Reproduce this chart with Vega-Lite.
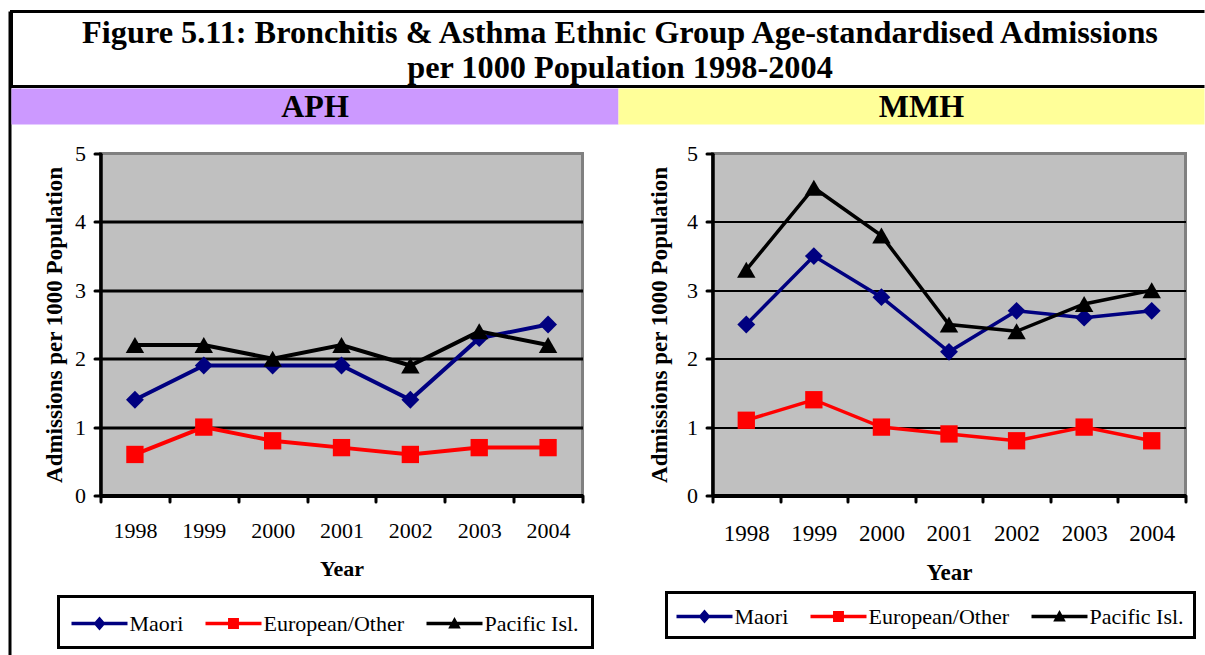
{
  "$schema": "https://vega.github.io/schema/vega-lite/v6.json",
  "padding": {"left": 8.5, "top": 9.5, "right": 0, "bottom": 0},
  "background": "white",
  "config": {"view": {"stroke": null}, "font": "Liberation Serif", "legend": {"strokeWidth": 3}},
  "datasets": {
    "rates": [
      {"hospital": "APH", "group": "Maori", "year": "1998", "value": 1.4},
      {"hospital": "APH", "group": "Maori", "year": "1999", "value": 1.9},
      {"hospital": "APH", "group": "Maori", "year": "2000", "value": 1.9},
      {"hospital": "APH", "group": "Maori", "year": "2001", "value": 1.9},
      {"hospital": "APH", "group": "Maori", "year": "2002", "value": 1.4},
      {"hospital": "APH", "group": "Maori", "year": "2003", "value": 2.3},
      {"hospital": "APH", "group": "Maori", "year": "2004", "value": 2.5},
      {"hospital": "APH", "group": "European/Other", "year": "1998", "value": 0.6},
      {"hospital": "APH", "group": "European/Other", "year": "1999", "value": 1.0},
      {"hospital": "APH", "group": "European/Other", "year": "2000", "value": 0.8},
      {"hospital": "APH", "group": "European/Other", "year": "2001", "value": 0.7},
      {"hospital": "APH", "group": "European/Other", "year": "2002", "value": 0.6},
      {"hospital": "APH", "group": "European/Other", "year": "2003", "value": 0.7},
      {"hospital": "APH", "group": "European/Other", "year": "2004", "value": 0.7},
      {"hospital": "APH", "group": "Pacific Isl.", "year": "1998", "value": 2.2},
      {"hospital": "APH", "group": "Pacific Isl.", "year": "1999", "value": 2.2},
      {"hospital": "APH", "group": "Pacific Isl.", "year": "2000", "value": 2.0},
      {"hospital": "APH", "group": "Pacific Isl.", "year": "2001", "value": 2.2},
      {"hospital": "APH", "group": "Pacific Isl.", "year": "2002", "value": 1.9},
      {"hospital": "APH", "group": "Pacific Isl.", "year": "2003", "value": 2.4},
      {"hospital": "APH", "group": "Pacific Isl.", "year": "2004", "value": 2.2},
      {"hospital": "MMH", "group": "Maori", "year": "1998", "value": 2.5},
      {"hospital": "MMH", "group": "Maori", "year": "1999", "value": 3.5},
      {"hospital": "MMH", "group": "Maori", "year": "2000", "value": 2.9},
      {"hospital": "MMH", "group": "Maori", "year": "2001", "value": 2.1},
      {"hospital": "MMH", "group": "Maori", "year": "2002", "value": 2.7},
      {"hospital": "MMH", "group": "Maori", "year": "2003", "value": 2.6},
      {"hospital": "MMH", "group": "Maori", "year": "2004", "value": 2.7},
      {"hospital": "MMH", "group": "European/Other", "year": "1998", "value": 1.1},
      {"hospital": "MMH", "group": "European/Other", "year": "1999", "value": 1.4},
      {"hospital": "MMH", "group": "European/Other", "year": "2000", "value": 1.0},
      {"hospital": "MMH", "group": "European/Other", "year": "2001", "value": 0.9},
      {"hospital": "MMH", "group": "European/Other", "year": "2002", "value": 0.8},
      {"hospital": "MMH", "group": "European/Other", "year": "2003", "value": 1.0},
      {"hospital": "MMH", "group": "European/Other", "year": "2004", "value": 0.8},
      {"hospital": "MMH", "group": "Pacific Isl.", "year": "1998", "value": 3.3},
      {"hospital": "MMH", "group": "Pacific Isl.", "year": "1999", "value": 4.5},
      {"hospital": "MMH", "group": "Pacific Isl.", "year": "2000", "value": 3.8},
      {"hospital": "MMH", "group": "Pacific Isl.", "year": "2001", "value": 2.5},
      {"hospital": "MMH", "group": "Pacific Isl.", "year": "2002", "value": 2.4},
      {"hospital": "MMH", "group": "Pacific Isl.", "year": "2003", "value": 2.8},
      {"hospital": "MMH", "group": "Pacific Isl.", "year": "2004", "value": 3.0}
    ]
  },
  "spacing": -3,
  "hconcat": [
    {
      "width": 3,
      "height": 646,
      "view": {"fill": "black", "stroke": null},
      "data": {"values": []},
      "mark": "point"
    },
    {
      "spacing": 0,
      "vconcat": [
        {
          "width": 1193,
          "height": 75,
          "view": {"fill": "white", "stroke": "black", "strokeWidth": 3, "strokeDash": [1193, 75, 1270]},
          "data": {"values": [{"caption": "Figure 5.11: Bronchitis & Asthma Ethnic Group Age-standardised Admissions\nper 1000 Population 1998-2004"}]},
          "mark": {"type": "text", "font": "Liberation Serif", "fontSize": 32.3, "fontWeight": "bold", "lineBreak": "\n", "lineHeight": 35, "baseline": "middle", "align": "center", "dx": 12, "dy": -16.5, "color": "black"},
          "encoding": {
            "text": {"field": "caption"},
            "x": {"field": "caption", "type": "nominal", "axis": null},
            "y": {"field": "caption", "type": "nominal", "axis": null}
          }
        },
        {
          "spacing": 0,
          "hconcat": [
            {
              "width": 607,
              "height": 36,
              "view": {"fill": "#cc99ff", "stroke": null},
              "data": {"values": [{"hospital": "APH"}]},
              "mark": {"type": "text", "font": "Liberation Serif", "fontSize": 32, "fontWeight": "bold", "baseline": "middle", "align": "center", "color": "black"},
              "encoding": {
                "text": {"field": "hospital"},
                "x": {"field": "hospital", "type": "nominal", "axis": null},
                "y": {"field": "hospital", "type": "nominal", "axis": null}
              }
            },
            {
              "width": 586,
              "height": 36,
              "view": {"fill": "#ffff99", "stroke": null},
              "data": {"values": [{"hospital": "MMH"}]},
              "mark": {"type": "text", "font": "Liberation Serif", "fontSize": 32, "fontWeight": "bold", "baseline": "middle", "align": "center", "dx": 10, "color": "black"},
              "encoding": {
                "text": {"field": "hospital"},
                "x": {"field": "hospital", "type": "nominal", "axis": null},
                "y": {"field": "hospital", "type": "nominal", "axis": null}
              }
            }
          ]
        },
        {
          "spacing": 0,
          "hconcat": [
            {
              "width": 30,
              "height": 1,
              "view": {"stroke": null, "fill": null},
              "data": {"values": []},
              "mark": "point"
            },
            {
              "spacing": 130,
              "bounds": "flush",
              "resolve": {"scale": {"color": "independent", "shape": "independent"}, "legend": {"color": "independent", "shape": "independent"}},
              "hconcat": [
                {
                  "width": 482,
                  "height": 342,
                  "title": {"text": "\u00a0", "fontSize": 10, "offset": 6, "frame": "group"},
                  "view": {"fill": "#c0c0c0", "stroke": "#808080", "strokeWidth": 3},
                  "data": {"name": "rates"},
                  "transform": [{"filter": "datum.hospital === 'APH'"}],
                  "encoding": {
                    "x": {
                      "field": "year", "type": "ordinal",
                      "scale": {"type": "band", "paddingInner": 0, "paddingOuter": 0},
                      "axis": {"title": "Year", "labelAngle": 0, "labelFont": "Liberation Serif", "labelFontSize": 22, "labelPadding": 19, "labelColor": "black",
                               "titleFont": "Liberation Serif", "titleFontSize": 22, "titleFontWeight": "bold", "titleColor": "black", "titlePadding": 17,
                               "domainColor": "black", "domainWidth": 4, "tickColor": "black", "tickWidth": 3, "tickSize": 6, "tickCap": "round", "tickBand": "extent", "grid": false}
                    },
                    "y": {
                      "field": "value", "type": "quantitative",
                      "scale": {"domain": [0, 5], "nice": false},
                      "axis": {"title": "Admissions per 1000 Population", "values": [0, 1, 2, 3, 4, 5], "format": "d",
                               "labelFont": "Liberation Serif", "labelFontSize": 22, "labelPadding": 9, "labelColor": "black",
                               "titleFont": "Liberation Serif", "titleFontSize": 23, "titleFontWeight": "bold", "titleColor": "black", "titlePadding": 8,
                               "domainColor": "black", "domainWidth": 3.5, "tickColor": "black", "tickWidth": 3, "tickSize": 6, "tickCap": "round",
                               "grid": true, "gridWidth": 3,
                               "gridColor": {"condition": {"test": "datum.value === 0 || datum.value === 5", "value": "transparent"}, "value": "black"}}
                    },
                    "color": {
                      "field": "group", "type": "nominal",
                      "scale": {"domain": ["Maori", "European/Other", "Pacific Isl."], "range": ["#000080", "#ff0000", "#000000"]},
                      "legend": {
                        "orient": "none", "legendX": -42, "legendY": 443, "direction": "horizontal", "title": null,
                        "labelFont": "Liberation Serif", "labelFontSize": 22, "labelColor": "black", "labelOffset": 16, "symbolOffset": 14,
                        "symbolSize": 784, "symbolStrokeWidth": 0, "symbolOpacity": 1, "columnPadding": 22, "padding": 13, "strokeColor": "black"
                      }
                    }
                  },
                  "layer": [
                    {"mark": {"type": "line", "strokeWidth": 4}},
                    {"transform": [{"filter": "datum.group === 'Maori'"}], "mark": {"type": "point", "filled": true, "opacity": 1, "size": 320, "shape": "diamond"}},
                    {"transform": [{"filter": "datum.group === 'European/Other'"}], "mark": {"type": "point", "filled": true, "opacity": 1, "size": 300, "shape": "square"}},
                    {"transform": [{"filter": "datum.group === 'Pacific Isl.'"}], "mark": {"type": "point", "filled": true, "opacity": 1, "size": 340, "shape": "triangle-up"}},
                    {
                      "mark": {"type": "point", "filled": true, "opacity": 0, "size": 784},
                      "encoding": {
                        "shape": {"field": "group", "type": "nominal",
                                  "scale": {"domain": ["Maori", "European/Other", "Pacific Isl."],
                                            "range": ["M-2,-0.125H2V0.125H-2Z M0,-0.5L0.43,0L0,0.5L-0.43,0Z", "M-2,-0.125H2V0.125H-2Z M-0.39,-0.39H0.39V0.39H-0.39Z", "M-2,-0.125H2V0.125H-2Z M0,-0.46L0.45,0.36H-0.45Z"]},
                                  "legend": {
                                    "orient": "none", "legendX": -42, "legendY": 443, "direction": "horizontal", "title": null,
                                    "labelFont": "Liberation Serif", "labelFontSize": 22, "labelColor": "black", "labelOffset": 16, "symbolOffset": 14,
                                    "symbolSize": 784, "symbolStrokeWidth": 0, "symbolOpacity": 1, "columnPadding": 22, "padding": 13, "strokeColor": "black"
                                  }}
                      }
                    }
                  ]
                },
                {
                  "width": 473,
                  "height": 342,
                  "title": {"text": "\u00a0", "fontSize": 10, "offset": 6, "frame": "group"},
                  "view": {"fill": "#c0c0c0", "stroke": "#808080", "strokeWidth": 3},
                  "data": {"name": "rates"},
                  "transform": [{"filter": "datum.hospital === 'MMH'"}],
                  "encoding": {
                    "x": {
                      "field": "year", "type": "ordinal",
                      "scale": {"type": "band", "paddingInner": 0, "paddingOuter": 0},
                      "axis": {"title": "Year", "labelAngle": 0, "labelFont": "Liberation Serif", "labelFontSize": 23, "labelPadding": 21, "labelColor": "black",
                               "titleFont": "Liberation Serif", "titleFontSize": 23, "titleFontWeight": "bold", "titleColor": "black", "titlePadding": 16,
                               "domainColor": "black", "domainWidth": 4, "tickColor": "black", "tickWidth": 3, "tickSize": 6, "tickCap": "round", "tickBand": "extent", "grid": false}
                    },
                    "y": {
                      "field": "value", "type": "quantitative",
                      "scale": {"domain": [0, 5], "nice": false},
                      "axis": {"title": "Admissions per 1000 Population", "values": [0, 1, 2, 3, 4, 5], "format": "d",
                               "labelFont": "Liberation Serif", "labelFontSize": 22, "labelPadding": 9, "labelColor": "black",
                               "titleFont": "Liberation Serif", "titleFontSize": 23, "titleFontWeight": "bold", "titleColor": "black", "titlePadding": 15,
                               "domainColor": "black", "domainWidth": 3.5, "tickColor": "black", "tickWidth": 3, "tickSize": 6, "tickCap": "round",
                               "grid": true, "gridWidth": 2,
                               "gridColor": {"condition": {"test": "datum.value === 0 || datum.value === 5", "value": "transparent"}, "value": "black"}}
                    },
                    "color": {
                      "field": "group", "type": "nominal",
                      "scale": {"domain": ["Maori", "European/Other", "Pacific Isl."], "range": ["#000080", "#ff0000", "#000000"]},
                      "legend": {
                        "orient": "none", "legendX": -46, "legendY": 439, "direction": "horizontal", "title": null,
                        "labelFont": "Liberation Serif", "labelFontSize": 22, "labelColor": "black", "labelOffset": 16, "symbolOffset": 14,
                        "symbolSize": 784, "symbolStrokeWidth": 0, "symbolOpacity": 1, "columnPadding": 22, "padding": 10, "strokeColor": "black"
                      }
                    }
                  },
                  "layer": [
                    {"mark": {"type": "line", "strokeWidth": 3.5}},
                    {"transform": [{"filter": "datum.group === 'Maori'"}], "mark": {"type": "point", "filled": true, "opacity": 1, "size": 320, "shape": "diamond"}},
                    {"transform": [{"filter": "datum.group === 'European/Other'"}], "mark": {"type": "point", "filled": true, "opacity": 1, "size": 300, "shape": "square"}},
                    {"transform": [{"filter": "datum.group === 'Pacific Isl.'"}], "mark": {"type": "point", "filled": true, "opacity": 1, "size": 340, "shape": "triangle-up"}},
                    {
                      "mark": {"type": "point", "filled": true, "opacity": 0, "size": 784},
                      "encoding": {
                        "shape": {"field": "group", "type": "nominal",
                                  "scale": {"domain": ["Maori", "European/Other", "Pacific Isl."],
                                            "range": ["M-2,-0.125H2V0.125H-2Z M0,-0.5L0.43,0L0,0.5L-0.43,0Z", "M-2,-0.125H2V0.125H-2Z M-0.39,-0.39H0.39V0.39H-0.39Z", "M-2,-0.125H2V0.125H-2Z M0,-0.46L0.45,0.36H-0.45Z"]},
                                  "legend": {
                                    "orient": "none", "legendX": -46, "legendY": 439, "direction": "horizontal", "title": null,
                                    "labelFont": "Liberation Serif", "labelFontSize": 22, "labelColor": "black", "labelOffset": 16, "symbolOffset": 14,
                                    "symbolSize": 784, "symbolStrokeWidth": 0, "symbolOpacity": 1, "columnPadding": 22, "padding": 10, "strokeColor": "black"
                                  }}
                      }
                    }
                  ]
                }
              ]
            }
          ]
        }
      ]
    }
  ]
}
